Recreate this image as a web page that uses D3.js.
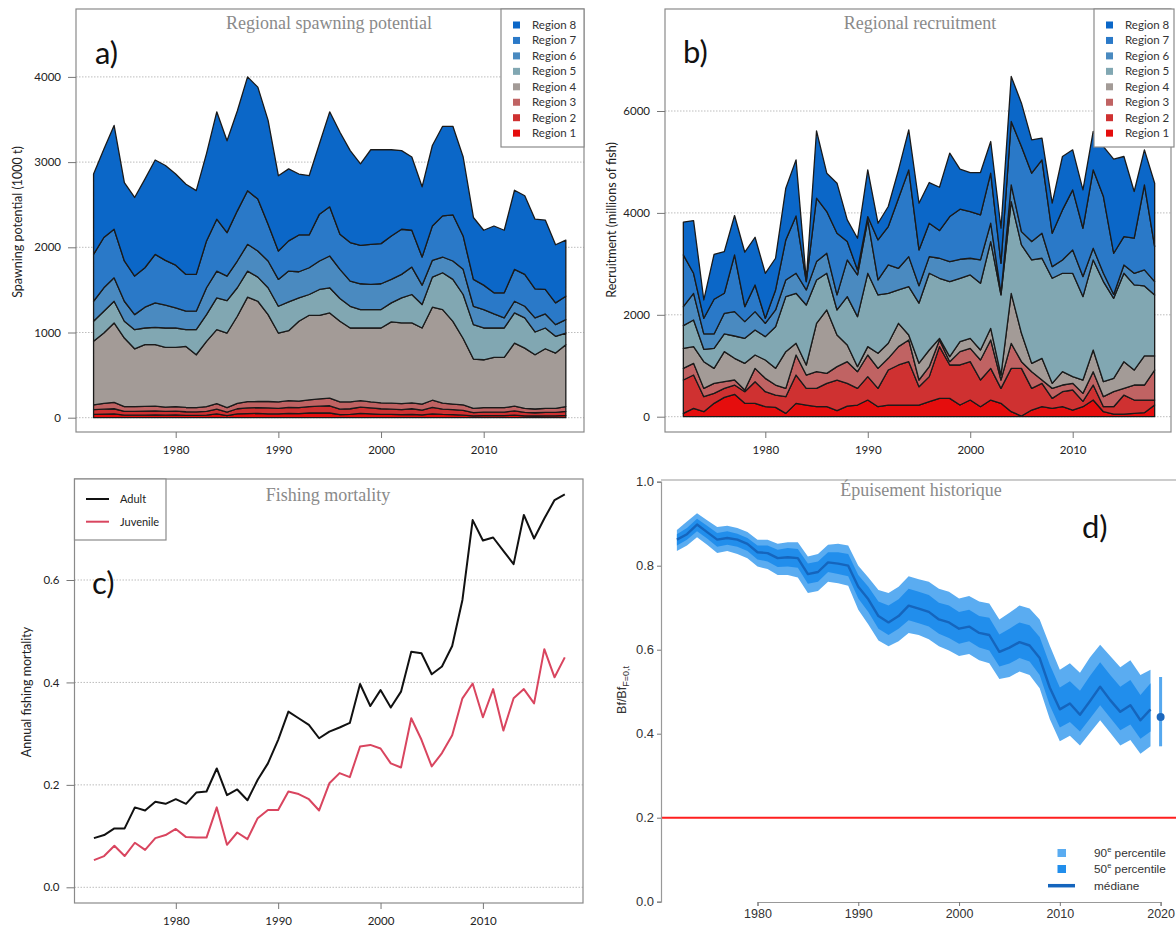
<!DOCTYPE html>
<html><head><meta charset="utf-8">
<script src="https://cdn.jsdelivr.net/npm/d3@7"></script>
<style>body{margin:0;background:#fff}svg{display:block}</style>
</head><body>
<svg id="c" width="1176" height="930"></svg>
<script>
// ---------- DATA ----------
const years = [1972,1973,1974,1975,1976,1977,1978,1979,1980,1981,1982,1983,1984,1985,1986,1987,1988,1989,1990,1991,1992,1993,1994,1995,1996,1997,1998,1999,2000,2001,2002,2003,2004,2005,2006,2007,2008,2009,2010,2011,2012,2013,2014,2015,2016,2017,2018];
const regionNames = ["Region 1","Region 2","Region 3","Region 4","Region 5","Region 6","Region 7","Region 8"];

// a) spawning potential (1000 t) per region
const spawnR1 = [40,42,45,30,30,30,32,30,32,28,28,30,45,25,45,48,50,45,45,50,48,55,55,55,35,40,50,45,40,38,35,40,32,45,38,35,30,22,25,25,25,30,22,20,22,22,28];
const spawnR2 = [55,58,60,45,45,48,48,45,46,42,40,45,55,40,60,67,68,70,65,70,70,75,80,85,65,65,75,70,65,62,60,65,58,75,62,60,55,38,40,40,40,50,40,38,40,40,47];
const spawnR3 = [55,69,75,55,55,54,55,50,52,50,50,55,65,53,64,74,72,75,75,80,77,80,85,90,85,80,75,70,70,70,70,70,70,85,70,65,65,50,53,53,53,55,48,44,48,48,55];
const spawnR4 = [746,825,932,805,679,725,722,700,695,717,621,766,868,876,1022,1226,1177,1020,809,821,937,992,982,1000,947,868,853,868,878,954,947,937,893,1092,1099,970,780,578,562,589,589,741,707,637,699,648,727];
const spawnR5 = [236,256,255,197,224,196,204,228,228,196,294,314,374,381,334,306,283,315,314,338,275,244,303,295,267,255,216,216,216,224,295,334,275,353,432,493,516,404,373,346,346,354,354,267,244,197,137];
const spawnR6 = [235,275,275,235,177,244,287,267,236,217,217,315,314,287,314,314,307,314,315,362,306,314,334,373,342,295,303,295,303,275,275,322,228,197,185,216,295,216,216,165,118,137,137,165,165,137,157];
const spawnR7 = [550,590,570,473,452,463,569,527,501,432,432,550,609,510,589,629,609,432,334,354,432,385,550,577,412,452,451,471,471,510,530,432,330,404,483,542,392,315,287,248,295,374,374,342,287,256,275];
const spawnR8 = [943,1035,1218,920,923,1040,1108,1113,1070,1058,983,1025,1260,1078,1172,1336,1314,1219,883,845,715,695,826,1115,1197,1080,957,1110,1102,1012,923,860,824,944,1051,1039,927,727,644,784,734,929,923,817,815,682,659];

// b) recruitment (millions of fish) per region
const recR1 = [65,164,98,262,380,439,262,262,196,183,65,262,229,196,196,118,209,229,327,196,229,229,229,229,295,360,360,229,327,196,327,262,98,13,131,196,164,196,131,196,327,98,52,52,65,79,229];
const recR2 = [655,654,295,196,176,183,229,425,295,242,328,556,327,360,459,602,446,327,459,360,688,786,851,360,491,1015,655,786,753,524,622,294,851,936,425,459,196,295,393,104,295,98,144,373,262,248,98];
const recR3 = [229,229,163,197,131,98,33,262,262,197,163,393,262,328,196,262,425,328,425,393,229,360,426,131,196,131,65,262,262,393,557,164,491,131,328,65,196,131,131,158,262,197,295,131,295,295,589];
const recR4 = [393,328,524,294,590,426,523,262,360,327,721,230,197,949,1244,622,328,98,164,295,295,458,98,330,327,32,98,196,196,196,229,98,982,557,163,426,99,262,131,262,425,294,262,524,294,570,276];
const recR5 = [445,524,243,393,347,438,491,491,458,818,1080,981,1178,851,720,491,949,982,1440,1146,981,655,949,1180,1506,1179,1474,1244,1245,1310,1702,1572,1801,1735,2030,1964,2062,1931,2029,1637,1768,1965,1571,1735,1670,1374,1198];
const recR6 = [373,523,301,282,406,478,328,360,262,328,327,393,295,360,393,295,720,819,1048,294,557,425,589,340,327,393,392,373,327,458,363,32,327,261,360,491,229,262,458,393,229,163,76,164,229,315,262];
const recR7 = [1015,393,307,681,392,1113,294,524,98,393,786,1126,164,1244,818,1211,360,98,65,786,753,1375,1703,703,655,543,884,982,916,884,979,590,1244,1670,1342,1440,655,982,1179,949,1539,1506,808,556,688,1669,687];
const recR8 = [642,1035,360,883,819,773,1068,936,884,622,1015,1100,32,1323,753,982,426,622,917,327,393,557,785,917,799,851,1244,786,766,831,622,688,884,851,655,426,589,1048,786,753,755,979,1846,1572,917,688,1244];

// c) fishing mortality
const adultF = [0.096,0.102,0.115,0.115,0.156,0.150,0.167,0.163,0.172,0.163,0.185,0.187,0.232,0.180,0.191,0.170,0.210,0.242,0.288,0.343,0.330,0.317,0.291,0.304,0.312,0.321,0.397,0.354,0.385,0.351,0.382,0.460,0.457,0.416,0.431,0.471,0.561,0.717,0.677,0.683,0.657,0.631,0.727,0.681,0.720,0.756,0.767];
const juvenileF = [0.053,0.061,0.081,0.061,0.087,0.073,0.096,0.102,0.114,0.098,0.097,0.097,0.156,0.083,0.107,0.094,0.135,0.151,0.151,0.187,0.182,0.172,0.150,0.203,0.223,0.215,0.275,0.278,0.271,0.242,0.234,0.330,0.288,0.236,0.262,0.297,0.369,0.398,0.332,0.387,0.306,0.369,0.387,0.359,0.465,0.410,0.449];

// d) historical depletion
const depYears = [1972,1973,1974,1975,1976,1977,1978,1979,1980,1981,1982,1983,1984,1985,1986,1987,1988,1989,1990,1991,1992,1993,1994,1995,1996,1997,1998,1999,2000,2001,2002,2003,2004,2005,2006,2007,2008,2009,2010,2011,2012,2013,2014,2015,2016,2017,2018,2019];
const depLo90 = [0.835,0.848,0.868,0.850,0.830,0.835,0.828,0.818,0.798,0.792,0.778,0.778,0.772,0.735,0.740,0.762,0.758,0.752,0.695,0.660,0.622,0.608,0.620,0.640,0.635,0.625,0.608,0.598,0.585,0.590,0.575,0.568,0.530,0.535,0.548,0.540,0.508,0.435,0.382,0.395,0.372,0.402,0.432,0.402,0.372,0.385,0.352,0.370];
const depLo50 = [0.848,0.862,0.882,0.865,0.845,0.850,0.845,0.835,0.815,0.810,0.797,0.798,0.795,0.757,0.762,0.785,0.780,0.775,0.722,0.690,0.650,0.635,0.650,0.670,0.663,0.655,0.638,0.628,0.614,0.620,0.605,0.598,0.560,0.567,0.580,0.572,0.540,0.468,0.415,0.428,0.405,0.436,0.468,0.438,0.408,0.422,0.388,0.405];
const depMed  = [0.862,0.875,0.898,0.880,0.862,0.866,0.862,0.852,0.832,0.830,0.818,0.820,0.818,0.780,0.785,0.808,0.805,0.800,0.750,0.720,0.680,0.665,0.680,0.705,0.698,0.690,0.672,0.665,0.650,0.655,0.640,0.635,0.595,0.605,0.618,0.610,0.580,0.510,0.458,0.472,0.445,0.478,0.512,0.480,0.452,0.468,0.432,0.458];
const depHi50 = [0.875,0.890,0.912,0.895,0.878,0.882,0.876,0.866,0.848,0.848,0.838,0.842,0.840,0.805,0.810,0.832,0.832,0.828,0.778,0.750,0.715,0.705,0.720,0.745,0.738,0.730,0.712,0.705,0.690,0.695,0.680,0.676,0.636,0.650,0.665,0.658,0.630,0.565,0.510,0.525,0.502,0.538,0.570,0.540,0.512,0.528,0.492,0.520];
const depHi90 = [0.885,0.905,0.925,0.908,0.892,0.895,0.890,0.880,0.862,0.862,0.852,0.856,0.856,0.822,0.828,0.850,0.852,0.848,0.800,0.772,0.742,0.735,0.750,0.775,0.768,0.762,0.745,0.738,0.722,0.728,0.715,0.710,0.672,0.688,0.705,0.698,0.672,0.610,0.552,0.568,0.545,0.582,0.612,0.585,0.558,0.575,0.540,0.552];
const projYear = [2020];
const projMed = [0.44];
const projLo = [0.37];
const projHi = [0.535];
const depRef = [0.2];

// ---------- STYLE ----------
const svg = d3.select('#c');
const F = 'Lato, "Open Sans", sans-serif';
const TF = '"Liberation Serif", "DejaVu Serif", serif';
const AF = '"Liberation Sans", Arial, sans-serif';
const regionColors = ['#e50d0d','#cf3131','#c06363','#a39b97','#81a7b2','#4a8ac0','#2a79c8','#0b67c8'];

function styleAxis(sel, size){
  sel.select('.domain').remove();
  sel.selectAll('line').attr('stroke','#777');
  sel.selectAll('text').attr('font-family',F).attr('font-size',size).attr('fill','#222');
}

function rFrame(cfg){
  const g = svg.append('g');
  g.selectAll('.grid').data(cfg.yTicks).enter().append('line')
    .attr('x1',cfg.box[0]).attr('x2',cfg.box[2])
    .attr('y1',d=>cfg.y(d)).attr('y2',d=>cfg.y(d))
    .attr('stroke','#bdbdbd').attr('stroke-width',1).attr('stroke-dasharray','1.5,1.5');
  return g;
}
function rAxes(cfg){
  const g = svg.append('g');
  g.append('rect').attr('x',cfg.box[0]).attr('y',cfg.box[1])
    .attr('width',cfg.box[2]-cfg.box[0]).attr('height',cfg.box[3]-cfg.box[1])
    .attr('fill','none').attr('stroke','#8a8a8a').attr('stroke-width',1.2);
  g.append('g').attr('transform',`translate(${cfg.box[0]},0)`)
    .call(d3.axisLeft(cfg.y).tickValues(cfg.yTicks).tickSize(8).tickPadding(7).tickFormat(cfg.yFmt))
    .call(s=>styleAxis(s,11.5));
  g.append('g').attr('transform',`translate(0,${cfg.box[3]})`)
    .call(d3.axisBottom(cfg.x).tickValues([1980,1990,2000,2010]).tickSize(6).tickPadding(8).tickFormat(d3.format('d')))
    .call(s=>styleAxis(s,11.5));
  g.append('text').attr('transform',`translate(${cfg.yLabX},${cfg.yLabY}) rotate(-90)`)
    .attr('text-anchor','middle').attr('font-family',F).attr('font-size',12.5).attr('fill','#222').text(cfg.yLab);
  g.append('text').attr('x',cfg.titleX).attr('y',cfg.titleY).attr('text-anchor','middle')
    .attr('font-family',TF).attr('font-size',18).attr('fill','#8a8a8a').text(cfg.title);
  g.append('text').attr('x',cfg.letX).attr('y',cfg.letY).attr('font-family',F)
    .attr('font-size',31).attr('fill','#111').text(cfg.letter);
  return g;
}

function stackedPanel(cfg, series){
  const data = years.map((yr,i)=>{ const o={year:yr}; series.forEach((s,k)=>o['r'+(k+1)]=s[i]); return o; });
  const keys = series.map((s,k)=>'r'+(k+1));
  const st = d3.stack().keys(keys)(data);
  rFrame(cfg);
  const area = d3.area().x(d=>cfg.x(d.data.year)).y0(d=>cfg.y(d[0])).y1(d=>cfg.y(d[1]));
  svg.append('g').selectAll('path').data(st).enter().append('path')
    .attr('d',area).attr('fill',(d,i)=>regionColors[i])
    .attr('stroke','#1a1a1a').attr('stroke-width',1.3).attr('stroke-linejoin','round');
  rAxes(cfg);
  const lg = svg.append('g');
  lg.append('rect').attr('x',cfg.leg[0]).attr('y',cfg.box[1]).attr('width',cfg.leg[1]).attr('height',138)
    .attr('fill','#fff').attr('stroke','#8a8a8a').attr('stroke-width',1.2);
  const order = [7,6,5,4,3,2,1,0];
  order.forEach((ri,j)=>{
    const yy = cfg.box[1]+16+j*15.45;
    lg.append('rect').attr('x',cfg.leg[0]+12).attr('y',yy-3.5).attr('width',7).attr('height',7).attr('fill',regionColors[ri]);
    lg.append('text').attr('x',cfg.leg[0]+31).attr('y',yy).attr('dy','0.35em')
      .attr('font-family',F).attr('font-size',11.5).attr('fill','#333').text(regionNames[ri]);
  });
}

// ---------- a) ----------
const xa = d3.scaleLinear().domain([1980,2010]).range([175.7,483.7]);
const ya = d3.scaleLinear().domain([0,4000]).range([417.7,76.9]);
stackedPanel({box:[76,9,584,432], x:xa, y:ya, yTicks:[0,1000,2000,3000,4000], yFmt:d3.format('d'),
  yLab:'Spawning potential (1000 t)', yLabX:22, yLabY:222, title:'Regional spawning potential', titleX:329, titleY:29,
  letter:'a)', letX:95, letY:64, leg:[501,83]},
  [spawnR1,spawnR2,spawnR3,spawnR4,spawnR5,spawnR6,spawnR7,spawnR8]);

// ---------- b) ----------
const xb = d3.scaleLinear().domain([1980,2010]).range([765.3,1072.7]);
const yb = d3.scaleLinear().domain([0,6000]).range([416.7,111]);
stackedPanel({box:[665,9,1171,432], x:xb, y:yb, yTicks:[0,2000,4000,6000], yFmt:d3.format('d'),
  yLab:'Recruitment (millions of fish)', yLabX:616, yLabY:220, title:'Regional recruitment', titleX:920, titleY:29,
  letter:'b)', letX:683, letY:63, leg:[1094,80]},
  [recR1,recR2,recR3,recR4,recR5,recR6,recR7,recR8]);

// ---------- c) ----------
const xc = d3.scaleLinear().domain([1980,2010]).range([175.8,482.9]);
const yc = d3.scaleLinear().domain([0,0.6]).range([887.3,580]);
const cfgC = {box:[74.5,479,583,903], x:xc, y:yc, yTicks:[0,0.2,0.4,0.6], yFmt:d3.format('.1f'),
  yLab:'Annual fishing mortality', yLabX:31, yLabY:692, title:'Fishing mortality', titleX:328, titleY:501,
  letter:'c)', letX:92, letY:594};
rFrame(cfgC);
const lineC = d3.line().x((d,i)=>xc(years[i])).y(d=>yc(d));
svg.append('path').datum(adultF).attr('d',lineC).attr('fill','none').attr('stroke','#111').attr('stroke-width',2).attr('stroke-linejoin','round');
svg.append('path').datum(juvenileF).attr('d',lineC).attr('fill','none').attr('stroke','#d9455f').attr('stroke-width',2).attr('stroke-linejoin','round');
rAxes(cfgC);
const lc = svg.append('g');
lc.append('rect').attr('x',74.5).attr('y',479).attr('width',91.5).attr('height',61).attr('fill','#fff').attr('stroke','#8a8a8a').attr('stroke-width',1.2);
[['Adult','#111',499],['Juvenile','#d9455f',521.7]].forEach(([t,c,yy])=>{
  lc.append('line').attr('x1',86).attr('x2',109).attr('y1',yy).attr('y2',yy).attr('stroke',c).attr('stroke-width',2);
  lc.append('text').attr('x',120).attr('y',yy).attr('dy','0.35em').attr('font-family',F).attr('font-size',11).attr('fill','#222').text(t);
});

// ---------- d) ----------
const xd = d3.scaleLinear().domain([1980,2020]).range([757.5,1160.6]);
const yd = d3.scaleLinear().domain([0,1]).range([901.7,481.7]);
const gd = svg.append('g');
gd.append('line').attr('x1',661).attr('x2',1176).attr('y1',480).attr('y2',480).attr('stroke','#999').attr('stroke-width',1.2);
const band = (lo,hi)=>d3.area().x((d,i)=>xd(depYears[i])).y0((d,i)=>yd(lo[i])).y1((d,i)=>yd(hi[i]));
gd.append('path').datum(depYears).attr('d',band(depLo90,depHi90)).attr('fill','#5aacf1');
gd.append('path').datum(depYears).attr('d',band(depLo50,depHi50)).attr('fill','#218eec');
gd.append('path').datum(depMed).attr('d',d3.line().x((d,i)=>xd(depYears[i])).y(d=>yd(d)))
  .attr('fill','none').attr('stroke','#1565bd').attr('stroke-width',2.4).attr('stroke-linejoin','round');
gd.selectAll('.pe').data(projYear).enter().append('line')
  .attr('x1',d=>xd(d)).attr('x2',d=>xd(d)).attr('y1',(d,i)=>yd(projLo[i])).attr('y2',(d,i)=>yd(projHi[i]))
  .attr('stroke','#55a8ef').attr('stroke-width',3);
gd.selectAll('.pm').data(projYear).enter().append('circle')
  .attr('cx',d=>xd(d)).attr('cy',(d,i)=>yd(projMed[i])).attr('r',4).attr('fill','#1b67bd');
gd.selectAll('.ref').data(depRef).enter().append('line')
  .attr('x1',661).attr('x2',1176).attr('y1',d=>yd(d)).attr('y2',d=>yd(d)).attr('stroke','#ff1f1f').attr('stroke-width',2);
gd.append('g').attr('transform','translate(661,0)')
  .call(d3.axisLeft(yd).tickValues([0,0.2,0.4,0.6,0.8,1.0]).tickSize(4).tickPadding(3).tickFormat(d3.format('.1f')))
  .call(s=>{s.select('.domain').attr('stroke','#999').attr('stroke-width',1.2); s.selectAll('line').attr('stroke','#777');
    s.selectAll('text').attr('font-family',AF).attr('font-size',13).attr('fill','#333');});
gd.append('g').attr('transform','translate(0,902)')
  .call(d3.axisBottom(xd).tickValues([1980,1990,2000,2010,2020]).tickSize(4).tickPadding(3).tickFormat(d3.format('d')))
  .call(s=>{s.select('.domain').attr('stroke','#999').attr('stroke-width',1.2); s.selectAll('line').attr('stroke','#777');
    s.selectAll('text').attr('font-family',AF).attr('font-size',12.5).attr('fill','#333');});
const yt = gd.append('text').attr('transform','translate(626,690) rotate(-90)').attr('text-anchor','middle')
  .attr('font-family',AF).attr('font-size',12.5).attr('fill','#333');
yt.append('tspan').text('Bf/Bf');
yt.append('tspan').attr('font-size',9).attr('dy',3).text('F=0,t');
gd.append('text').attr('x',921).attr('y',496).attr('text-anchor','middle').attr('font-family',TF)
  .attr('font-size',18).attr('fill','#8a8a8a').text('Épuisement historique');
gd.append('text').attr('x',1082).attr('y',538).attr('font-family',F).attr('font-size',31).attr('fill','#111').text('d)');
const ld = gd.append('g');
[['90','#5aacf1',853],['50','#218eec',869]].forEach(([n,c,yy])=>{
  ld.append('rect').attr('x',1057.5).attr('y',yy-4).attr('width',8.5).attr('height',8).attr('fill',c);
  const t = ld.append('text').attr('x',1094).attr('y',yy).attr('dy','0.35em').attr('font-family',AF).attr('font-size',11.8).attr('fill','#333');
  t.append('tspan').text(n);
  t.append('tspan').attr('font-size',7.5).attr('dy',-5).text('e');
  t.append('tspan').attr('dy',5).text(' percentile');
});
ld.append('line').attr('x1',1048).attr('x2',1075).attr('y1',885.7).attr('y2',885.7).attr('stroke','#1565bd').attr('stroke-width',3.5);
ld.append('text').attr('x',1094).attr('y',885.7).attr('dy','0.35em').attr('font-family',AF).attr('font-size',11.8).attr('fill','#333').text('médiane');
</script>
</body></html>
